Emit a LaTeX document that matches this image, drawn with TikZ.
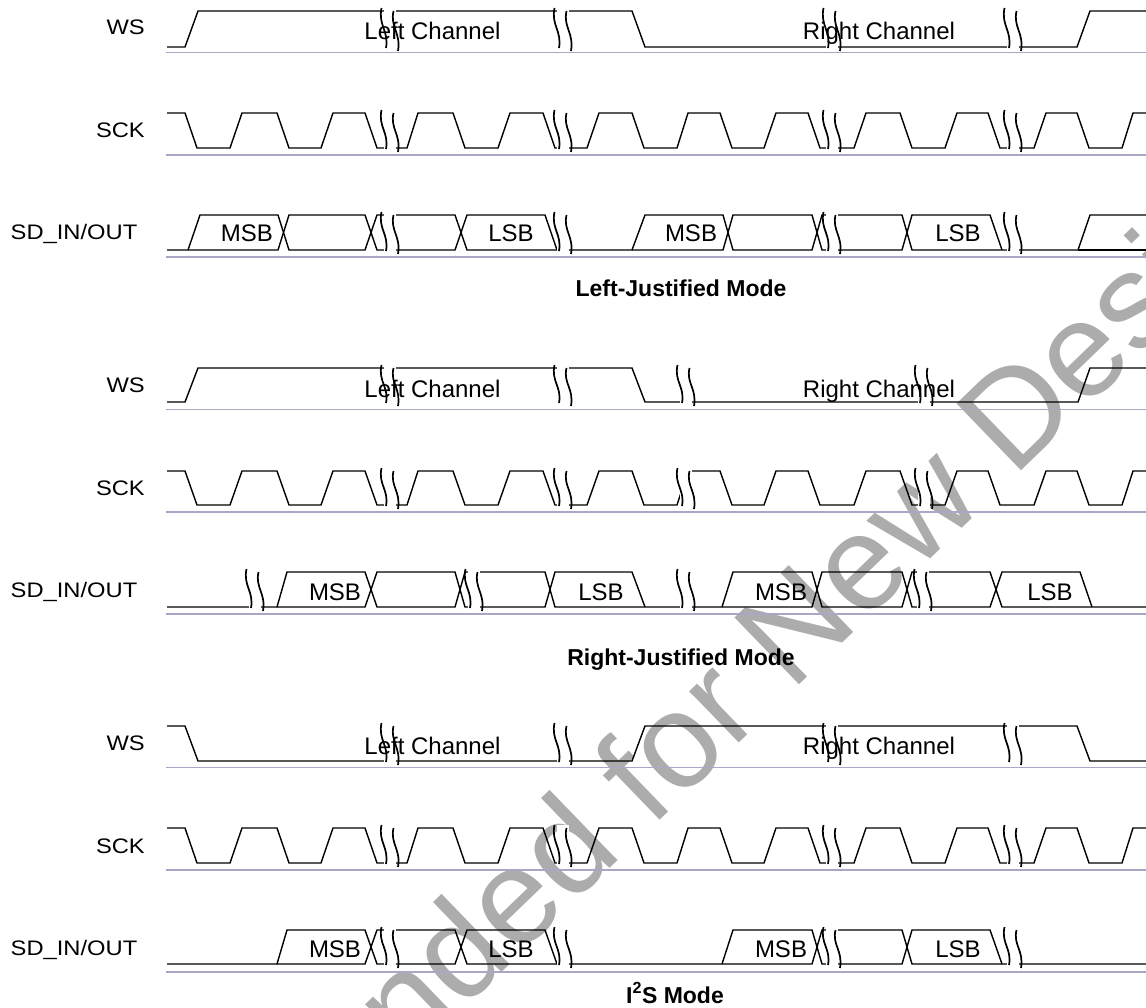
\documentclass[tikz,border=0pt]{standalone}
\usepackage{fontspec}
\setmainfont{Liberation Sans}
\definecolor{basecol}{RGB}{168,168,198}
\definecolor{wmcol}{RGB}{172,172,172}
\tikzset{
  wave/.style={line width=1.4pt, line join=miter},
  baseln/.style={line width=1.8pt, draw=basecol},
  brkline/.style={line width=1.7pt},
  chtext/.style={font=\fontsize{24}{28}\selectfont, anchor=base, inner sep=0pt},
  sigl/.style={font=\fontsize{21}{25}\selectfont, anchor=base east, inner sep=0pt},
  modecap/.style={font=\fontsize{23}{27}\selectfont\bfseries, anchor=base, inner sep=0pt},
  wmark/.style={font=\fontsize{135}{140}\selectfont, text=wmcol, anchor=base west, inner sep=0pt}
}
\newcommand{\clk}[2]{\draw[wave] (167,#1) -- (185,#1) -- (197,#2) -- (230,#2) -- (242,#1) -- (277,#1) -- (289,#2) -- (321,#2) -- (333,#1) -- (365,#1) -- (377,#2) -- (407,#2) -- (418,#1) -- (453,#1) -- (465,#2) -- (498,#2) -- (510,#1) -- (543,#1) -- (555,#2) -- (587,#2) -- (599,#1) -- (632,#1) -- (644,#2) -- (677,#2) -- (688,#1) -- (720,#1) -- (732,#2) -- (764,#2) -- (776,#1) -- (808,#1) -- (820,#2) -- (854,#2) -- (866,#1) -- (900,#1) -- (912,#2) -- (945,#2) -- (957,#1) -- (988,#1) -- (1000,#2) -- (1034,#2) -- (1046,#1) -- (1077,#1) -- (1089,#2) -- (1122,#2) -- (1133,#1) -- (1146,#1);}
\newcommand{\gapw}[3]{\fill[white] ({#1},{#2-3}) rectangle ({#1+12},{#3+3});}
\newcommand{\brk}[3]{%
  \draw[brkline] ({#1-2.5},{#2-3}) .. controls ({#1-6},{#2+0.4*(#3-#2)}) and ({#1+5},{#2+0.55*(#3-#2)}) .. ({#1+2},{#3+1});
  \draw[brkline] ({#1+9.5},{#2}) .. controls ({#1+6},{#2+0.45*(#3-#2)}) and ({#1+17},{#2+0.6*(#3-#2)}) .. ({#1+14},{#3+4});}
\newcommand{\lbl}[1]{\scalebox{1.13}[1]{#1}}
\begin{document}
\begin{tikzpicture}[x=1pt,y=-1pt]
\useasboundingbox (0,0) rectangle (1146,1008);
\fill[white] (0,0) rectangle (1146,1008);
% watermark
\begin{scope}
\clip (0,0) rectangle (1146,1008);
\node[wmark, rotate=44] (wm) at (-212,1662) {Not Recommended for New Design};
\end{scope}
% baselines
\foreach \d in {0,357,715}{
  \draw[baseln] (166,52.5+\d) -- (1146,52.5+\d);
  \draw[baseln] (166,155+\d) -- (1146,155+\d);
  \draw[baseln] (166,257+\d) -- (1146,257+\d);
}
% ---------------- Section 1: Left-Justified
\draw[wave] (167,47) -- (185,47) -- (198,11) -- (632,11) -- (645,47) -- (1077,47) -- (1090,11) -- (1146,11);
\clk{113}{148}
\draw[wave] (167,250) -- (188,250) -- (200,215) -- (278,215) -- (289,250) -- (365,250) -- (377,215) -- (455,215) -- (467,250) -- (632,250) -- (645,215) -- (723,215) -- (733,250) -- (812,250) -- (822,215) -- (902,215) -- (912,250) -- (1078,250) -- (1090,215) -- (1146,215);
\draw[wave] (188,250) -- (278,250) -- (289,215) -- (365,215) -- (377,250) -- (455,250) -- (467,215) -- (545,215) -- (557,250);
\draw[wave] (632,250) -- (723,250) -- (733,215) -- (812,215) -- (822,250) -- (902,250) -- (912,215) -- (990,215) -- (1002,250);
\draw[wave] (1078,250) -- (1146,250);
\foreach \x in {384,557,826,1007}{
  \gapw{\x}{11}{47} \gapw{\x}{113}{148} \gapw{\x}{215}{250}
}
% ---------------- Section 2: Right-Justified
\draw[wave] (167,402) -- (185,402) -- (198,368) -- (632,368) -- (645,402) -- (1078,402) -- (1090,368) -- (1146,368);
\clk{471}{505}
\draw[wave] (167,607) -- (277,607) -- (287,572) -- (365,572) -- (377,607) -- (455,607) -- (465,572) -- (545,572) -- (555,607) -- (722,607) -- (733,572) -- (812,572) -- (822,607) -- (902,607) -- (912,572) -- (990,572) -- (1002,607) -- (1146,607);
\draw[wave] (277,607) -- (365,607) -- (377,572) -- (455,572) -- (465,607) -- (545,607) -- (555,572) -- (632,572) -- (645,607);
\draw[wave] (722,607) -- (812,607) -- (822,572) -- (902,572) -- (912,607) -- (990,607) -- (1002,572) -- (1080,572) -- (1092,607);
\foreach \x in {384,557,680,918}{
  \gapw{\x}{368}{402} \gapw{\x}{471}{505}
}
\foreach \x in {249,468,680,917}{ \gapw{\x}{572}{607} }
% ---------------- Section 3: I2S
\draw[wave] (167,726) -- (185,726) -- (198,761) -- (632,761) -- (645,726) -- (1077,726) -- (1090,761) -- (1146,761);
\clk{828}{863}
\draw[wave] (167,964) -- (277,964) -- (287,930) -- (365,930) -- (377,964) -- (455,964) -- (467,930) -- (545,930) -- (557,964) -- (722,964) -- (733,930) -- (812,930) -- (822,964) -- (902,964) -- (912,930) -- (990,930) -- (1002,964) -- (1146,964);
\draw[wave] (277,964) -- (365,964) -- (377,930) -- (455,930) -- (467,964) -- (557,964);
\draw[wave] (722,964) -- (812,964) -- (822,930) -- (902,930) -- (912,964) -- (1002,964);
\foreach \x in {384,557,826,1007}{
  \gapw{\x}{726}{761} \gapw{\x}{828}{863} \gapw{\x}{930}{964}
}
% ---------------- texts
\foreach \d/\s in {0/a,357/b,715/c}{
  \node[sigl] (ws\s) at (145,35+\d) {\lbl{WS}};
  \node[sigl] (sck\s) at (145,138+\d) {\lbl{SCK}};
  \node[sigl] (sd\s) at (137.5,240+\d) {\lbl{SD\_IN/OUT}};
}
\node[chtext] (lc1) at (432.5,40) {Left Channel};
\node[chtext] (rc1) at (879,40) {Right Channel};
\node[chtext] (lc2) at (432.5,397) {Left Channel};
\node[chtext] (rc2) at (879,397) {Right Channel};
\node[chtext] (lc3) at (432.5,754) {Left Channel};
\node[chtext] (rc3) at (879,754) {Right Channel};
\node[chtext] (m1a) at (247,242) {MSB};
\node[chtext] (l1a) at (511,242) {LSB};
\node[chtext] (m1b) at (691,242) {MSB};
\node[chtext] (l1b) at (958,242) {LSB};
\node[chtext] (m2a) at (335,600) {MSB};
\node[chtext] (l2a) at (601,600) {LSB};
\node[chtext] (m2b) at (781,600) {MSB};
\node[chtext] (l2b) at (1050,600) {LSB};
\node[chtext] (m3a) at (335,957) {MSB};
\node[chtext] (l3a) at (511,957) {LSB};
\node[chtext] (m3b) at (781,957) {MSB};
\node[chtext] (l3b) at (958,957) {LSB};
\node[modecap] (cap1) at (681,297) {Left-Justified Mode};
\node[modecap] (cap2) at (681,665) {Right-Justified Mode};
\node[modecap] (cap3) at (675,1003) {I\textsuperscript{2}S Mode};
% ---------------- break strokes
\foreach \x in {384,557,826,1007}{
  \brk{\x}{11}{47} \brk{\x}{113}{148} \brk{\x}{215}{250}
  \brk{\x}{726}{761} \brk{\x}{828}{863} \brk{\x}{930}{964}
}
\foreach \x in {384,557,680,918}{ \brk{\x}{368}{402} \brk{\x}{471}{505} }
\foreach \x in {249,468,680,917}{ \brk{\x}{572}{607} }
\end{tikzpicture}
\end{document}
